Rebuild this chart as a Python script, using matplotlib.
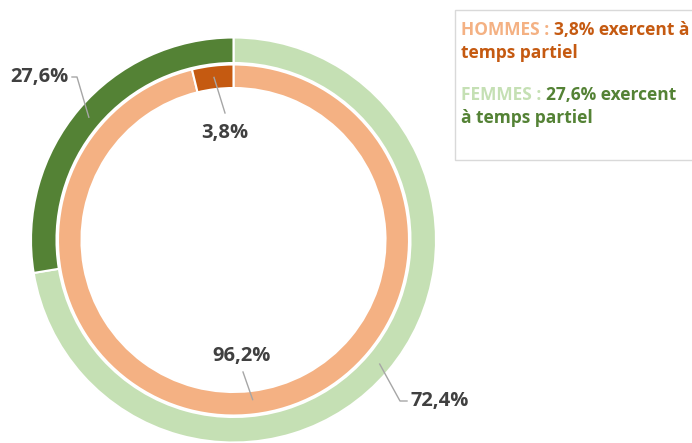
import matplotlib
matplotlib.use('Agg')
import matplotlib.pyplot as plt
import numpy as np
from matplotlib.patches import Rectangle

# ---- data ----
outer_values = [72.4, 27.6]          # FEMMES : temps complet, temps partiel
outer_labels = ['72,4%', '27,6%']
outer_colors = ['#C5E0B4', '#548235']
inner_values = [96.2, 3.8]           # HOMMES : temps complet, temps partiel
inner_labels = ['96,2%', '3,8%']
inner_colors = ['#F4B183', '#C55A11']

legend_lines = [
    [("HOMMES : ", '#F4B183'), ("3,8% exercent à", '#C55A11')],
    [("temps partiel", '#C55A11')],
    [("FEMMES : ", '#C5E0B4'), ("27,6% exercent", '#548235')],
    [("à temps partiel", '#548235')],
]

plt.rcParams['font.family'] = ['Open Sans', 'DejaVu Sans']

W, H = 692, 443
fig = plt.figure(figsize=(W / 100, H / 100), dpi=100)
ax = fig.add_axes([0, 0, 1, 1])

cx, cy = 233.5, H - 240
R_out, w_out = 202.5, 25.5
R_in, w_in = 175.5, 23.5

wo, _ = ax.pie(outer_values, colors=outer_colors, startangle=90, counterclock=False,
               radius=R_out, center=(cx, cy), frame=True,
               wedgeprops=dict(width=w_out, edgecolor='white', linewidth=1.5))
wi, _ = ax.pie(inner_values, colors=inner_colors, startangle=90, counterclock=False,
               radius=R_in, center=(cx, cy), frame=True,
               wedgeprops=dict(width=w_in, edgecolor='white', linewidth=1.5))
ax.set_xlim(0, W)
ax.set_ylim(0, H)
ax.set_aspect('equal')
ax.axis('off')

def anchor(w, r):
    th = np.deg2rad((w.theta1 + w.theta2) / 2)
    return cx + r * np.cos(th), cy + r * np.sin(th)

lab_kw = dict(fontsize=14.5, fontweight='bold', color='#404040', ha='center', va='center')
line_kw = dict(color='#A6A6A6', lw=1)

# outer: 72,4% (light green), 27,6% (dark green)
ax_, ay_ = anchor(wo[1], R_out - w_out / 2)
ax.plot([72, 77, ax_], [H - 77, H - 77, ay_], **line_kw)
ax.text(39, H - 77, outer_labels[1], **lab_kw)

ax_, ay_ = anchor(wo[0], R_out - w_out / 2 + 2)
ax.plot([ax_, 400, 407], [ay_, H - 401, H - 401], **line_kw)
ax.text(440, H - 401, outer_labels[0], **lab_kw)

# inner: 96,2% (light orange), 3,8% (dark orange)
ax_, ay_ = anchor(wi[1], R_in - w_in / 2)
ax.plot([ax_, 225], [ay_, H - 113], **line_kw)
ax.text(225, H - 133, inner_labels[1], **lab_kw)

ax_, ay_ = anchor(wi[0], R_in - w_in / 2 - 3)
ax.plot([243, ax_], [H - 372, ay_], **line_kw)
ax.text(242, H - 356, inner_labels[0], **lab_kw)

# legend box
ax.add_patch(Rectangle((455, H - 160), 260, 150, facecolor='white',
                       edgecolor='#D9D9D9', lw=1, clip_on=True))
renderer = fig.canvas.get_renderer()
line_y = [30, 53, 95, 118]
for y, pieces in zip(line_y, legend_lines):
    x = 461
    for txt, col in pieces:
        t = ax.text(x, H - y, txt, fontsize=12.5, fontweight='bold', color=col,
                    ha='left', va='center')
        bb = t.get_window_extent(renderer=renderer)
        x = bb.x1

fig.savefig('out.png', dpi=100)
